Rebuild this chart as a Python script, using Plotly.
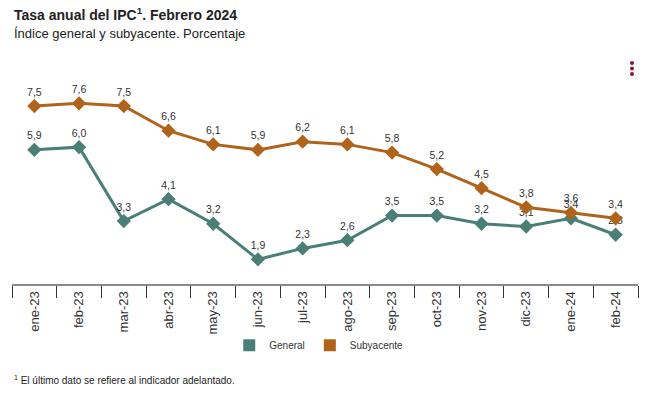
import plotly.graph_objects as go

months = ["ene-23", "feb-23", "mar-23", "abr-23", "may-23", "jun-23", "jul-23",
          "ago-23", "sep-23", "oct-23", "nov-23", "dic-23", "ene-24", "feb-24"]
general = [5.9, 6.0, 3.3, 4.1, 3.2, 1.9, 2.3, 2.6, 3.5, 3.5, 3.2, 3.1, 3.4, 2.8]
subyacente = [7.5, 7.6, 7.5, 6.6, 6.1, 5.9, 6.2, 6.1, 5.8, 5.2, 4.5, 3.8, 3.6, 3.4]

c_gen = "#4a7f77"
c_sub = "#b0631a"
font = "Liberation Sans, Arial, sans-serif"

ML, MR, MT, MB = 4, 24, 57, 121
W, H = 654, 397
PW, PH = W - ML - MR, H - MT - MB

fig = go.Figure()
for name, vals, col in [("General", general, c_gen), ("Subyacente", subyacente, c_sub)]:
    fig.add_trace(go.Scatter(
        x=months, y=vals, mode="lines+markers+text", name=name, showlegend=False,
        line=dict(color=col, width=3),
        marker=dict(symbol="diamond", size=11, color=col),
        texttemplate="%{y:.1f}", textposition="top center",
        textfont=dict(size=10.5, color="#333333", family=font),
        cliponaxis=False,
    ))
    fig.add_trace(go.Scatter(
        x=[None], y=[None], mode="markers", name=name,
        marker=dict(symbol="square", size=12, color=col),
    ))

fig.update_layout(
    width=W, height=H,
    margin=dict(l=ML, r=MR, t=MT, b=MB),
    paper_bgcolor="white", plot_bgcolor="white",
    separators=",.",
    font=dict(family=font, color="#333333"),
    showlegend=True,
    legend=dict(orientation="h", x=0.49, y=-0.28, xanchor="center", yanchor="middle",
                font=dict(size=10, color="#333333"), itemwidth=30),
    xaxis=dict(
        type="category", range=[-0.5, 13.5],
        showline=True, linecolor="#8a8a8a", linewidth=2,
        ticks="outside", tickson="boundaries", ticklen=12, tickcolor="#333333", tickwidth=1,
        tickangle=-90, tickfont=dict(size=13, color="#333333", family=font),
        showgrid=False, zeroline=False,
    ),
    yaxis=dict(range=[1.0, 9.0], visible=False, showgrid=False, zeroline=False),
)

fig.add_annotation(
    text="<b>Tasa anual del IPC<sup>1</sup>. Febrero 2024</b>",
    xref="paper", yref="paper", x=0, y=1.0, xanchor="left", yanchor="bottom",
    yshift=40, showarrow=False, font=dict(size=14, color="#222222", family=font))
fig.add_annotation(
    text="Índice general y subyacente. Porcentaje",
    xref="paper", yref="paper", x=0, y=1.0, xanchor="left", yanchor="bottom",
    yshift=22, showarrow=False, font=dict(size=13, color="#222222", family=font))
fig.add_annotation(
    text="<sup>1</sup> El último dato se refiere al indicador adelantado.",
    xref="paper", yref="paper", x=0, y=0, xanchor="left", yanchor="middle",
    yshift=-96, showarrow=False, font=dict(size=10, color="#222222", family=font))

# menu dots (figure pixel coords -> paper)
for yy in [55, 60.5, 66]:
    fig.add_shape(type="circle", xref="paper", yref="paper",
                  x0=(622 - ML) / PW, x1=(626 - ML) / PW,
                  y0=(H - MB - (yy + 2)) / PH, y1=(H - MB - (yy - 2)) / PH,
                  line_width=0, fillcolor="#8b1538")

fig.write_html("out.html")
